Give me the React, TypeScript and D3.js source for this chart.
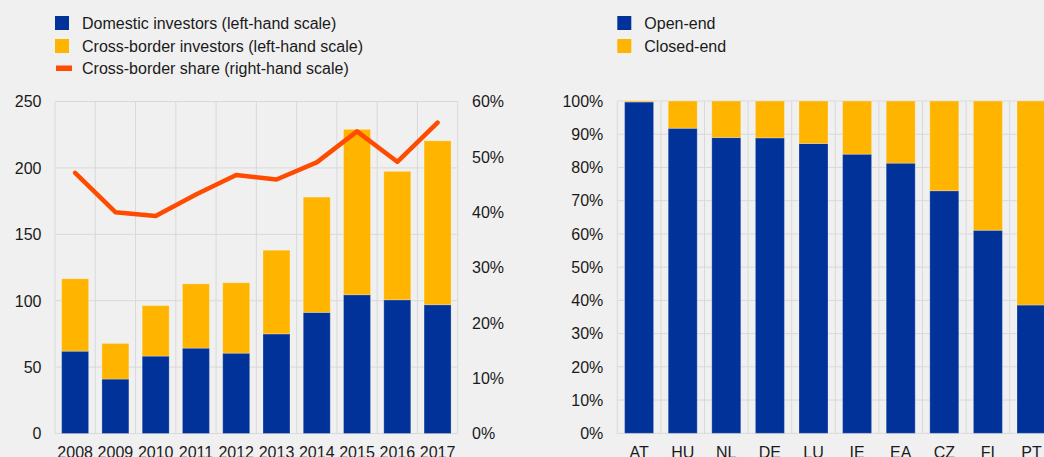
import React from "react";
import * as d3 from "d3";

const years = ["2008", "2009", "2010", "2011", "2012", "2013", "2014", "2015", "2016", "2017"];
const domestic = [62, 41, 58.3, 64.3, 60.5, 75, 91.2, 104.5, 100.7, 97];
const crossBorder = [54.5, 26.8, 38, 48.4, 53, 63, 86.8, 124.5, 96.7, 123.4];
const crossShare = [47.1, 40.0, 39.3, 43.2, 46.7, 45.9, 49.0, 54.6, 49.1, 56.2];
const leftTicks = [0, 50, 100, 150, 200, 250];
const rightTicks = [0, 10, 20, 30, 40, 50, 60];

const countries = ["AT", "HU", "NL", "DE", "LU", "IE", "EA", "CZ", "FI", "PT"];
const openEnd = [99.7, 91.8, 89.0, 88.9, 87.2, 84.0, 81.3, 73.0, 61.1, 38.6];
const closedEnd = [0.3, 8.2, 11.0, 11.1, 12.8, 16.0, 18.7, 27.0, 38.9, 61.4];
const pctTicks = [0, 10, 20, 30, 40, 50, 60, 70, 80, 90, 100];

const BLUE = "#003299";
const YELLOW = "#ffb400";
const ORANGE = "#ff4b00";
const GRID = "#d9d9d9";
const BG = "#f0f0f0";
const TXT = "#1a1a1a";
const FONT = "Arial, 'Liberation Sans', sans-serif";

export default function App() {
  // Left chart
  const x1 = d3.scaleBand<string>().domain(years).range([55, 457.7]).paddingInner(0.33).paddingOuter(0.165);
  const y1 = d3.scaleLinear().domain([0, 250]).range([433.5, 101.5]);
  const y1r = d3.scaleLinear().domain([0, 60]).range([433.5, 101.5]);
  const step1 = x1.step();
  const line = d3
    .line<number>()
    .x((_, i) => (x1(years[i]) as number) + x1.bandwidth() / 2)
    .y((d) => y1r(d));

  // Right chart
  const x2 = d3.scaleBand<string>().domain(countries).range([617.3, 1053.3]).paddingInner(0.335).paddingOuter(0.1675);
  const y2 = d3.scaleLinear().domain([0, 100]).range([433.3, 101]);
  const step2 = x2.step();

  const barStroke = { stroke: "#ffffff", strokeOpacity: 0.25, strokeWidth: 1 };

  return (
    <svg
      width={1044}
      height={457}
      style={{ position: "absolute", left: 0, top: 0, display: "block" }}
      fontFamily={FONT}
    >
      <rect x={0} y={0} width={1044} height={457} fill={BG} />

      {/* Left legend */}
      <g fontSize={16} fill={TXT}>
        <rect x={55} y={16} width={14} height={14} fill={BLUE} />
        <text x={82} y={29}>Domestic investors (left-hand scale)</text>
        <rect x={55} y={39} width={14} height={14} fill={YELLOW} />
        <text x={82} y={51.5}>Cross-border investors (left-hand scale)</text>
        <rect x={56} y={65.5} width={16} height={5.5} fill={ORANGE} />
        <text x={82} y={74}>Cross-border share (right-hand scale)</text>
      </g>

      {/* Left grid */}
      <g stroke={GRID} strokeWidth={1}>
        {leftTicks.map((t) => (
          <line key={"h" + t} x1={55} x2={457.7} y1={y1(t)} y2={y1(t)} />
        ))}
        {d3.range(years.length + 1).map((i) => (
          <line key={"v" + i} x1={55 + i * step1} x2={55 + i * step1} y1={101.5} y2={433.5} />
        ))}
      </g>

      {/* Left bars */}
      <g>
        {years.map((yr, i) => (
          <g key={yr}>
            <rect
              x={x1(yr)}
              width={x1.bandwidth()}
              y={y1(domestic[i])}
              height={y1(0) - y1(domestic[i])}
              fill={BLUE}
              {...barStroke}
            />
            <rect
              x={x1(yr)}
              width={x1.bandwidth()}
              y={y1(domestic[i] + crossBorder[i])}
              height={y1(domestic[i]) - y1(domestic[i] + crossBorder[i])}
              fill={YELLOW}
              {...barStroke}
            />
          </g>
        ))}
      </g>

      <path
        d={line(crossShare) as string}
        fill="none"
        stroke={ORANGE}
        strokeWidth={4.5}
        strokeLinecap="round"
        strokeLinejoin="round"
      />

      {/* Left axis labels */}
      <g fontSize={16} fill={TXT}>
        {leftTicks.map((t) => (
          <text key={"l" + t} x={41.5} y={y1(t) + 5.8} textAnchor="end">
            {t}
          </text>
        ))}
        {rightTicks.map((t) => (
          <text key={"r" + t} x={472} y={y1r(t) + 5.8} textAnchor="start">
            {t + "%"}
          </text>
        ))}
        {years.map((yr) => (
          <text key={"x" + yr} x={(x1(yr) as number) + x1.bandwidth() / 2} y={457.5} textAnchor="middle">
            {yr}
          </text>
        ))}
      </g>

      {/* Right legend */}
      <g fontSize={16} fill={TXT}>
        <rect x={617.3} y={16} width={14} height={14} fill={BLUE} />
        <text x={644.3} y={29}>Open-end</text>
        <rect x={617.3} y={39} width={14} height={14} fill={YELLOW} />
        <text x={644.3} y={51.5}>Closed-end</text>
      </g>

      {/* Right grid */}
      <g stroke={GRID} strokeWidth={1}>
        {pctTicks.map((t) => (
          <line key={"h2" + t} x1={617.3} x2={1053.3} y1={y2(t)} y2={y2(t)} />
        ))}
        {d3.range(countries.length + 1).map((i) => (
          <line key={"v2" + i} x1={617.3 + i * step2} x2={617.3 + i * step2} y1={101} y2={433.3} />
        ))}
      </g>

      {/* Right bars */}
      <g>
        {countries.map((c, i) => (
          <g key={c}>
            <rect
              x={x2(c)}
              width={x2.bandwidth()}
              y={y2(openEnd[i])}
              height={y2(0) - y2(openEnd[i])}
              fill={BLUE}
              {...barStroke}
            />
            <rect
              x={x2(c)}
              width={x2.bandwidth()}
              y={y2(openEnd[i] + closedEnd[i])}
              height={y2(openEnd[i]) - y2(openEnd[i] + closedEnd[i])}
              fill={YELLOW}
              {...barStroke}
            />
          </g>
        ))}
      </g>

      <g fontSize={16} fill={TXT}>
        {pctTicks.map((t) => (
          <text key={"p" + t} x={603.3} y={y2(t) + 5.8} textAnchor="end">
            {t + "%"}
          </text>
        ))}
        {countries.map((c) => (
          <text key={"c" + c} x={(x2(c) as number) + x2.bandwidth() / 2} y={457.5} textAnchor="middle">
            {c}
          </text>
        ))}
      </g>
    </svg>
  );
}
